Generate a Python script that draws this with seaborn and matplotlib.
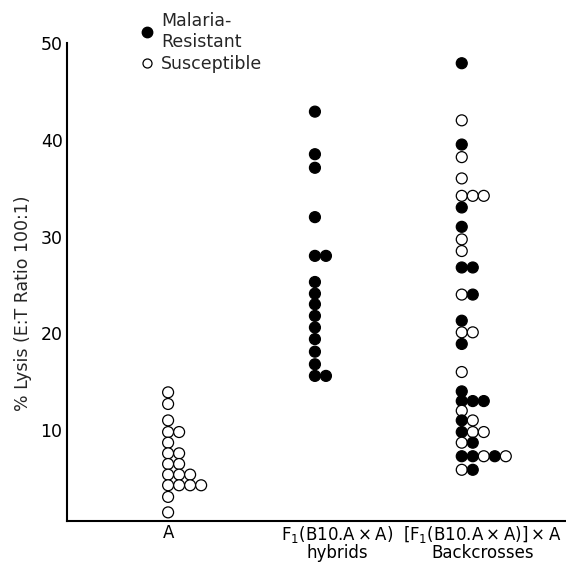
import pandas as pd
import matplotlib
matplotlib.use("Agg")
import matplotlib.pyplot as plt
from matplotlib.lines import Line2D
import seaborn as sns

# values (% lysis), in left-to-right order inside each row
group_labels = ["A",
                "F$_{1}$(B10.A\u2009×\u2009A)\nhybrids",
                "[F$_{1}$(B10.A\u2009×\u2009A)]\u2009×\u2009A\nBackcrosses"]
label_pos = [0.0, 1.15, 2.14]

a_lysis = [13.9, 12.7, 11.0, 9.8, 9.8, 8.7, 7.6, 7.6, 6.5, 6.5, 5.4, 5.4, 5.4,
           4.3, 4.3, 4.3, 4.3, 3.1, 1.5]
a_resistant = [0] * len(a_lysis)

f1_lysis = [42.9, 38.5, 37.1, 32.0, 28.0, 28.0, 25.3, 24.1, 23.0, 21.8, 20.6,
            19.4, 18.1, 16.8, 15.6, 15.6]
f1_resistant = [1] * len(f1_lysis)

bc_lysis = [47.9, 42.0, 39.5, 38.2, 36.0, 34.2, 34.2, 34.2, 33.0, 31.0, 29.7,
            28.5, 26.8, 26.8, 24.0, 24.0, 21.3, 20.1, 20.1, 18.9, 16.0,
            14.0, 13.0, 13.0, 13.0, 12.0, 11.0, 11.0, 9.8, 9.8, 9.8, 8.7, 8.7,
            7.3, 7.3, 7.3, 7.3, 7.3, 5.9, 5.9]
bc_resistant = [1, 0, 1, 0, 0, 0, 0, 0, 1, 1, 0,
                0, 1, 1, 0, 1, 1, 0, 0, 1, 0,
                1, 1, 1, 1, 0, 1, 0, 1, 0, 0, 0, 1,
                1, 1, 0, 1, 0, 0, 1]

step = 0.075  # one marker width, in x units

rows = []
groups = [(a_lysis, a_resistant), (f1_lysis, f1_resistant), (bc_lysis, bc_resistant)]
for gi, (vals, res) in enumerate(groups):
    seen = {}
    for v, r in zip(vals, res):
        k = seen.get(v, 0)
        seen[v] = k + 1
        rows.append({"x": gi + k * step, "lysis": v,
                     "status": "Resistant" if r else "Susceptible"})
df = pd.DataFrame(rows)

sns.set_style("white")
plt.rcParams["font.family"] = ["DejaVu Sans"]
plt.rcParams["mathtext.fontset"] = "dejavusans"

fs = 12.5

fig = plt.figure(figsize=(5.66, 5.72), dpi=100)
ax = fig.add_axes([0.118, 0.089, 0.882, 0.836])

sns.scatterplot(data=df, x="x", y="lysis", hue="status",
                palette={"Resistant": "black", "Susceptible": "white"},
                edgecolor="black", linewidth=0.9, s=62, legend=False,
                ax=ax, zorder=3)

ax.set_xlim(-0.69, 2.71)
ax.set_ylim(0.6, 50)
ax.set_yticks([10, 20, 30, 40, 50])
ax.set_xticks(label_pos, group_labels)
for t in ax.get_xticklabels():
    t.set_linespacing(0.95)
    t.set_fontsize(12)
ax.set_xlabel("")
ax.set_ylabel("% Lysis (E:T Ratio 100:1)", fontsize=fs)
ax.yaxis.set_label_coords(-0.07, 0.456)

for side in ["top", "right"]:
    ax.spines[side].set_visible(False)
for side in ["left", "bottom"]:
    ax.spines[side].set_linewidth(1.5)
    ax.spines[side].set_color("black")

ax.tick_params(axis="y", direction="in", length=15, width=1.5, labelsize=fs,
               pad=3, colors="black")
ax.tick_params(axis="x", length=0, pad=2, colors="black")

handles = [Line2D([], [], marker="o", ls="", mfc="black", mec="black", ms=7.5),
           Line2D([], [], marker="o", ls="", mfc="white", mec="black", ms=6.5, mew=0.9)]
ax.legend(handles, ["Malaria-\nResistant", "Susceptible"], loc="upper left",
          bbox_to_anchor=(0.15, 1.065), frameon=False, handlelength=0.6,
          handletextpad=0.5, labelspacing=0.25, borderpad=0, borderaxespad=0,
          fontsize=fs)

fig.savefig("out.png", dpi=100)
